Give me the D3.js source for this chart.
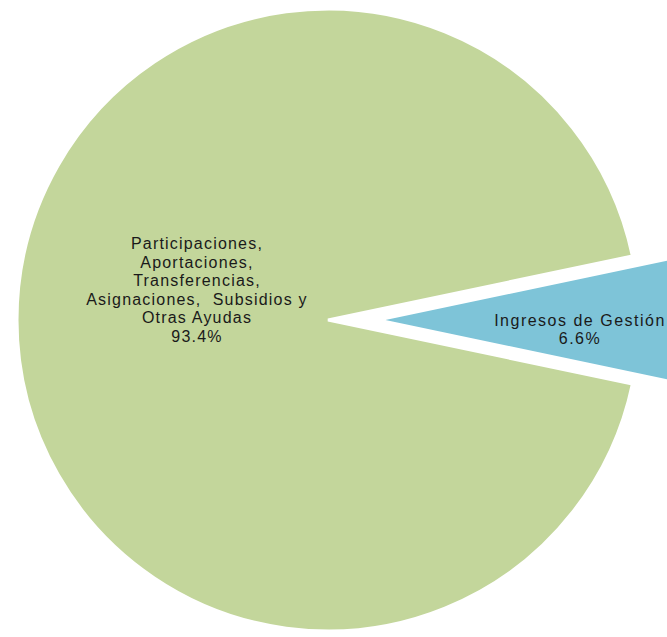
<!DOCTYPE html>
<html>
<head>
<meta charset="utf-8">
<script src="https://cdn.jsdelivr.net/npm/d3@7"></script>
<style>
  html, body { margin: 0; padding: 0; background: #ffffff; }
  svg { display: block; }
  text { white-space: pre; }
</style>
</head>
<body>
<svg id="chart" width="667" height="637"></svg>
<script>
// ---- data ----
const categories = ["Ingresos de Gestión", "Participaciones, Aportaciones, Transferencias, Asignaciones,  Subsidios y Otras Ayudas"];
const labelLines = [
  ["Ingresos de Gestión"],
  ["Participaciones,", "Aportaciones,", "Transferencias,", "Asignaciones,  Subsidios y", "Otras Ayudas"]
];
const values = [6.6, 93.4];
const percentLabels = ["6.6%", "93.4%"];
const colors = ["#7ec4d8", "#c3d69b"];

// ---- layout ----
const W = 667, H = 637;
const cx = 328, cy = 320, R = 311;
const explode = [50, 0];

const svg = d3.select("#chart");
const g = svg.append("g").attr("transform", `translate(${cx},${cy})`);

const half = (values[0] / d3.sum(values)) * Math.PI; // blue slice centered at 3 o'clock
const pie = d3.pie().sort(null).value(d => d)
  .startAngle(Math.PI / 2 - half)
  .endAngle(Math.PI / 2 - half + 2 * Math.PI);

const arcs = pie(values);
const arc = d3.arc().innerRadius(0).outerRadius(R);

const slices = g.selectAll("g.slice").data(arcs).enter().append("g")
  .attr("class", "slice")
  .attr("transform", (d, i) => {
    const a = (d.startAngle + d.endAngle) / 2;
    return `translate(${Math.sin(a) * explode[i]},${-Math.cos(a) * explode[i]})`;
  });

slices.append("path")
  .attr("d", arc)
  .attr("fill", (d, i) => colors[i])
  .attr("stroke", "#ffffff")
  .attr("stroke-width", 3)
  .attr("stroke-linejoin", "miter");

// ---- labels ----
const fontSize = 16, lineH = 18.5;
const spacing = [1.5, 1.2];
const labelPos = [[252, 5.5], [-131, -71]]; // offsets from pie centre
slices.append("text")
  .attr("text-anchor", "middle")
  .attr("font-family", "'Liberation Sans', Arial, sans-serif")
  .attr("font-size", fontSize)
  .attr("letter-spacing", (d, i) => spacing[i])
  .attr("fill", "#1a1a1a")
  .attr("xml:space", "preserve")
  .each(function(d, i) {
    const lines = labelLines[i].concat([percentLabels[i]]);
    const t = d3.select(this);
    lines.forEach((ln, k) => {
      t.append("tspan")
        .attr("x", labelPos[i][0] - explode[i])
        .attr("y", labelPos[i][1] + k * lineH)
        .text(ln);
    });
  });
</script>
</body>
</html>
